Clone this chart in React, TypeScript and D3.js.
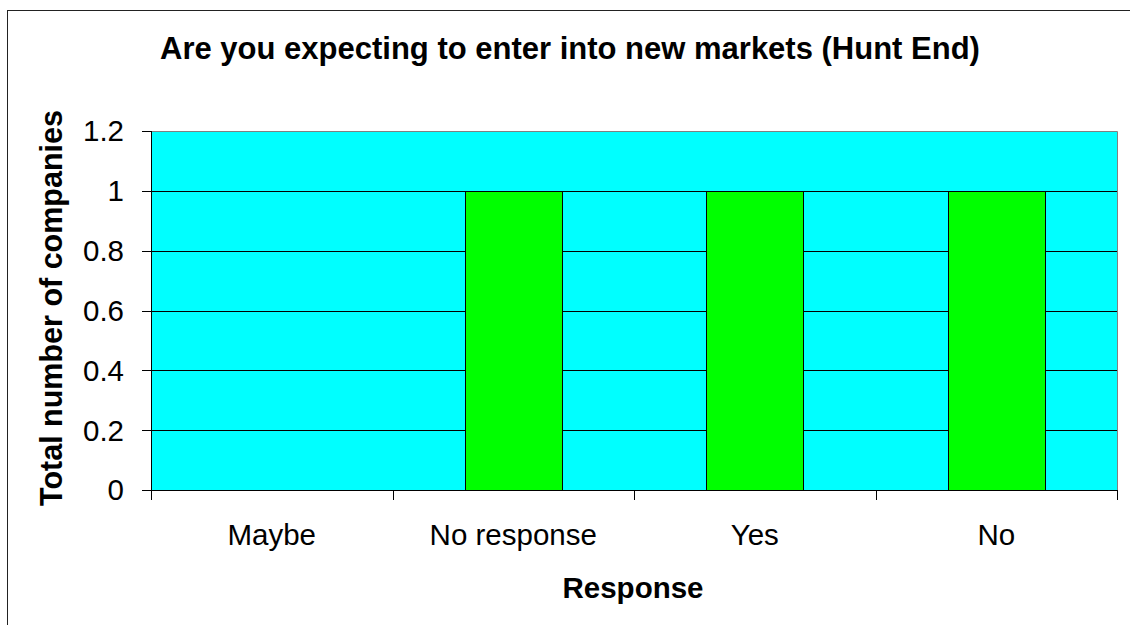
import React from "react";
import * as d3 from "d3";

const title = "Are you expecting to enter into new markets (Hunt End)";
const categories = ["Maybe", "No response", "Yes", "No"];
const values = [0, 1, 1, 1];
const yTicks = [0, 0.2, 0.4, 0.6, 0.8, 1, 1.2];
const yTickLabels = ["0", "0.2", "0.4", "0.6", "0.8", "1", "1.2"];
const xAxisTitle = "Response";
const yAxisTitle = "Total number of companies";

const W = 1130;
const H = 625;
const FONT = "'Liberation Sans', Arial, Helvetica, sans-serif";

export default function App() {
  const left = 151;
  const right = 1117;
  const top = 131;
  const bottom = 490;

  const x = d3
    .scaleBand<string>()
    .domain(categories)
    .range([left, right])
    .paddingInner(0.6)
    .paddingOuter(0.3);
  const y = d3.scaleLinear().domain([0, 1.2]).range([bottom, top]);
  const step = x.step();
  const boundaries = d3.range(categories.length + 1).map((i) => left + i * step);

  return (
    <svg
      width={W}
      height={H}
      style={{ position: "absolute", left: 0, top: 0, background: "#fff" }}
      fontFamily={FONT}
    >
      <rect x={0} y={0} width={W} height={H} fill="#fff" />
      {/* outer chart border */}
      <rect x={7.5} y={10.5} width={1300} height={800} fill="none" stroke="#222" strokeWidth={1} />

      {/* title */}
      <text x={570} y={59} textAnchor="middle" fontSize={31} fontWeight="bold" fill="#000">
        {title}
      </text>

      {/* plot area */}
      <rect x={left} y={top} width={right - left} height={bottom - top} fill="#00FFFF" />

      {/* gridlines */}
      {yTicks
        .filter((t) => t > 0 && t < 1.2)
        .map((t) => (
          <line
            key={"g" + t}
            x1={left}
            x2={right}
            y1={Math.round(y(t)) + 0.5}
            y2={Math.round(y(t)) + 0.5}
            stroke="#000"
            strokeWidth={1}
          />
        ))}

      {/* plot border top/right */}
      <path
        d={`M${left},${top + 0.5}H${right + 0.5}V${bottom}`}
        fill="none"
        stroke="#808080"
        strokeWidth={1}
      />

      {/* bars */}
      {categories.map((c, i) =>
        values[i] > 0 ? (
          <rect
            key={"b" + c}
            x={Math.round(x(c)!) + 0.5}
            y={Math.round(y(values[i])) + 0.5}
            width={Math.round(x.bandwidth())}
            height={Math.round(y(0)) - Math.round(y(values[i]))}
            fill="#00FF00"
            stroke="#000"
            strokeWidth={1}
          />
        ) : null
      )}

      {/* axes */}
      <line x1={left + 0.5} x2={left + 0.5} y1={top} y2={bottom} stroke="#000" />
      <line x1={left} x2={right + 1} y1={bottom + 0.5} y2={bottom + 0.5} stroke="#000" />

      {/* y ticks */}
      {yTicks.map((t, i) => (
        <g key={"yt" + t}>
          <line
            x1={142}
            x2={left}
            y1={Math.round(y(t)) + 0.5}
            y2={Math.round(y(t)) + 0.5}
            stroke="#000"
          />
          <text
            x={124}
            y={y(t)}
            dy="0.355em"
            textAnchor="end"
            fontSize={29.5}
            fill="#000"
          >
            {yTickLabels[i]}
          </text>
        </g>
      ))}

      {/* x ticks */}
      {boundaries.map((b, i) => (
        <line
          key={"xt" + i}
          x1={Math.round(b) + 0.5}
          x2={Math.round(b) + 0.5}
          y1={bottom}
          y2={bottom + 10}
          stroke="#000"
        />
      ))}
      {categories.map((c) => (
        <text
          key={"xl" + c}
          x={x(c)! + x.bandwidth() / 2}
          y={545}
          textAnchor="middle"
          fontSize={29.5}
          fill="#000"
        >
          {c}
        </text>
      ))}

      {/* axis titles */}
      <text x={633} y={598} textAnchor="middle" fontSize={29.5} fontWeight="bold" fill="#000">
        {xAxisTitle}
      </text>
      <text
        transform={`translate(62,308) rotate(-90)`}
        textAnchor="middle"
        fontSize={30.5}
        fontWeight="bold"
        fill="#000"
      >
        {yAxisTitle}
      </text>
    </svg>
  );
}
